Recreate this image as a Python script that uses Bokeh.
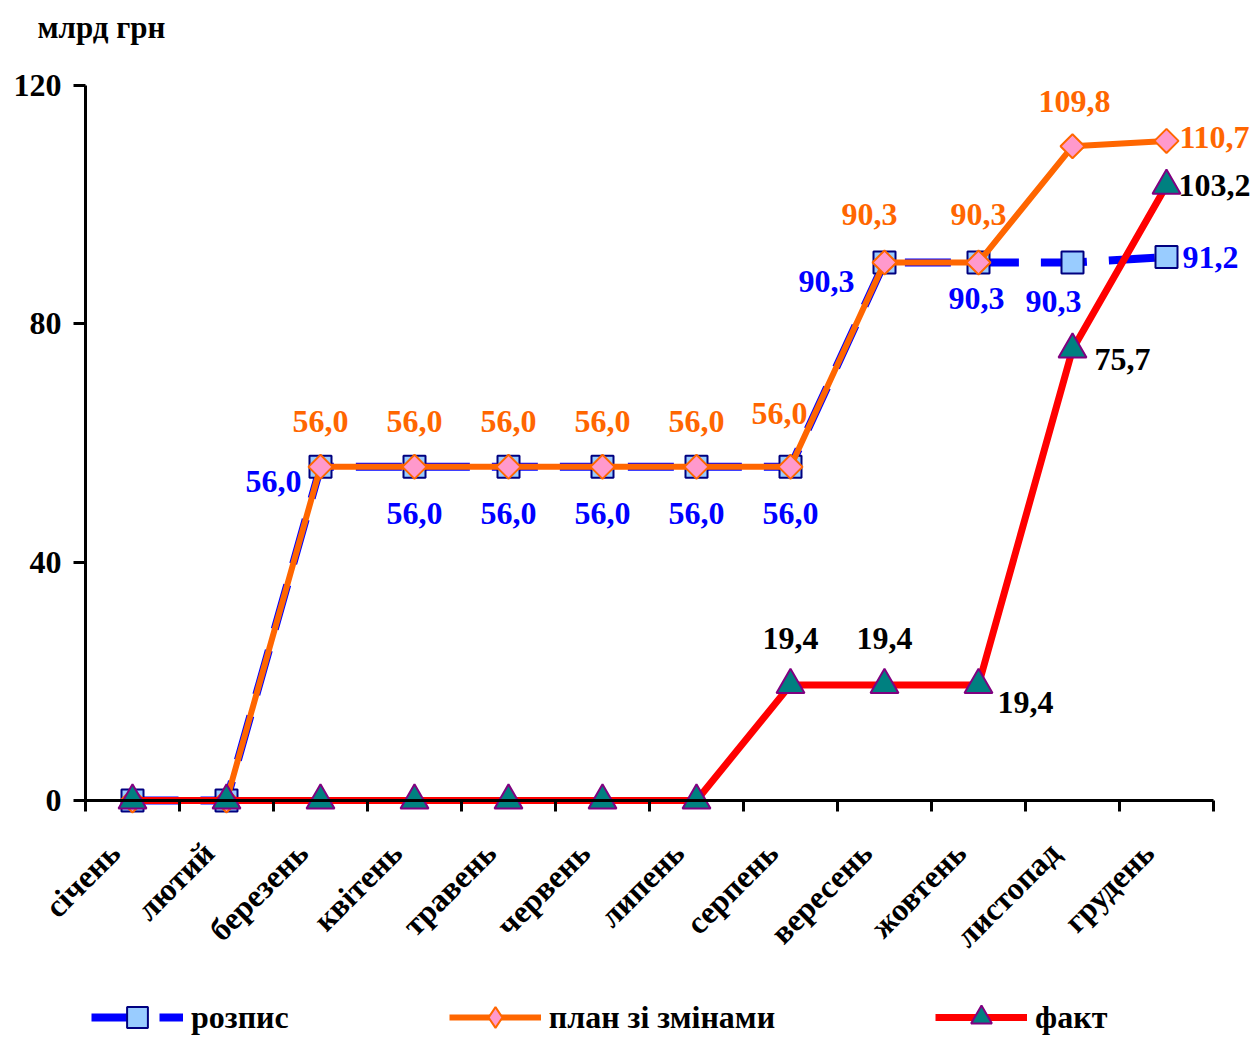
import numpy as np
from bokeh.plotting import figure
from bokeh.models import (Range1d, FixedTicker, ColumnDataSource, LabelSet, Label,
                          Legend, LegendItem, LinearAxis)
from bokeh.embed import file_html
from bokeh.resources import INLINE

# ---------------- data ----------------
months = ["січень", "лютий", "березень", "квітень", "травень", "червень",
          "липень", "серпень", "вересень", "жовтень", "листопад", "грудень"]
rozpys = [0, 0, 56.0, 56.0, 56.0, 56.0, 56.0, 56.0, 90.3, 90.3, 90.3, 91.2]
plan = [0, 0, 56.0, 56.0, 56.0, 56.0, 56.0, 56.0, 90.3, 90.3, 109.8, 110.7]
fakt = [0, 0, 0, 0, 0, 0, 0, 19.4, 19.4, 19.4, 75.7, 103.2]
y_ticks = [0, 40, 80, 120]
y_max = 120
y_unit = "млрд грн"
series_names = ["розпис", "план зі змінами", "факт"]

# ---------------- label placement (screen px offsets) ----------------
rozpys_off = [None, None, (-47, -15), (0, -47), (0, -47), (0, -47), (0, -47), (0, -47),
              (-58, -19), (-2, -36), (-19, -39), (44, 0)]
plan_off = [None, None, (0, 45), (0, 45), (0, 45), (0, 45), (0, 45), (-11, 53),
            (-15, 48), (0, 48), (2, 45), (48, 3)]
fakt_off = [None, None, None, None, None, None, None, (0, 46), (0, 46), (47, -18),
            (50, -10), (48, 0)]

FONT = "Liberation Serif"
BLUE, ORANGE, RED = "#0000FF", "#FF6600", "#FF0000"

# ---------------- layout in pixels ----------------
W, H = 1250, 1040
AX_LEFT, AX_BOTTOM, AX_TOP, AX_RIGHT = 85, 800, 85, 1213
LABEL_SHIFT_PX = 18
n = len(months)
px_x = (AX_RIGHT - AX_LEFT) / n
px_y = (AX_BOTTOM - AX_TOP) / y_max

x = np.arange(n) + 0.5
x_lab = x - LABEL_SHIFT_PX / px_x

p = figure(width=W, height=H, min_border=0,
           x_range=Range1d(-AX_LEFT / px_x, (W - AX_LEFT) / px_x),
           y_range=Range1d(-(H - AX_BOTTOM) / px_y, AX_BOTTOM / px_y),
           x_axis_location=None, y_axis_location=None,
           output_backend="svg", toolbar_location=None)
p.outline_line_color = None
p.grid.visible = False
p.background_fill_color = "white"

# x axis
xa = LinearAxis(fixed_location=0, bounds=(0, n))
xa.ticker = FixedTicker(ticks=[float(v) for v in x_lab], minor_ticks=list(range(n + 1)))
xa.major_label_overrides = {float(xi): m for xi, m in zip(x_lab, months)}
xa.major_tick_line_color = None
xa.minor_tick_line_color = "black"
xa.minor_tick_line_width = 3
xa.minor_tick_out = 11
xa.minor_tick_in = 0
xa.axis_line_width = 3
xa.axis_line_color = "black"
xa.major_label_orientation = np.pi / 4
xa.major_label_text_font = FONT
xa.major_label_text_font_style = "bold"
xa.major_label_text_font_size = "32px"
xa.major_label_text_color = "black"
xa.major_label_standoff = 36
p.add_layout(xa, "below")

# y axis
ya = LinearAxis(fixed_location=0, bounds=(0, y_max))
ya.ticker = FixedTicker(ticks=y_ticks)
ya.major_tick_out = 12
ya.major_tick_in = 0
ya.major_tick_line_width = 3
ya.major_tick_line_color = "black"
ya.minor_tick_line_color = None
ya.axis_line_width = 3
ya.axis_line_color = "black"
ya.major_label_text_font = FONT
ya.major_label_text_font_style = "bold"
ya.major_label_text_font_size = "32px"
ya.major_label_text_color = "black"
ya.major_label_standoff = 12
p.add_layout(ya, "left")

# series
b_line = p.line(x, rozpys, line_color=BLUE, line_width=8, line_dash="46 22", line_join="round")
b_mk = p.scatter(x, rozpys, marker="square", size=22, fill_color="#99CCFF",
                 line_color="#000080", line_width=2)
o_line = p.line(x, plan, line_color=ORANGE, line_width=6, line_join="round")
o_src = ColumnDataSource(dict(x=x, y=plan, a=[45.0] * n))
o_mk = p.scatter("x", "y", source=o_src, marker="square", angle="a", angle_units="deg",
                 size=17, fill_color="#FF99CC", line_color=ORANGE, line_width=2)
# legend-only diamond swatch (hidden in the plot area)
o_leg = p.scatter(x[:1], plan[:1], marker="diamond", size=24, fill_color="#FF99CC",
                  line_color=ORANGE, line_width=2, visible=False)
r_line = p.line(x, fakt, line_color=RED, line_width=7, line_join="round")
r_mk = p.scatter(x, fakt, marker="triangle", size=28, fill_color="#008080",
                 line_color="#800080", line_width=2)


def add_labels(values, offsets, color):
    xs, ys, txt, dx, dy = [], [], [], [], []
    for xi, v, off in zip(x, values, offsets):
        if off is None:
            continue
        xs.append(xi); ys.append(v)
        txt.append(f"{v:.1f}".replace(".", ","))
        dx.append(off[0]); dy.append(off[1])
    src = ColumnDataSource(dict(x=xs, y=ys, t=txt, dx=dx, dy=dy))
    p.add_layout(LabelSet(x="x", y="y", text="t", x_offset="dx", y_offset="dy", source=src,
                          text_align="center", text_baseline="middle",
                          text_font=FONT, text_font_style="bold", text_font_size="32px",
                          text_color=color))


add_labels(plan, plan_off, ORANGE)
add_labels(rozpys, rozpys_off, BLUE)
add_labels(fakt, fakt_off, "black")

# unit title
p.add_layout(Label(x=37, y=H - 27, x_units="screen", y_units="screen", text=y_unit,
                   text_align="left", text_baseline="middle", text_font=FONT,
                   text_font_style="bold", text_font_size="31px", text_color="black"))

legend = Legend(items=[LegendItem(label=series_names[0], renderers=[b_line, b_mk]),
                       LegendItem(label=series_names[1], renderers=[o_line, o_leg]),
                       LegendItem(label=series_names[2], renderers=[r_line, r_mk])],
                orientation="horizontal", location=(91, -3),
                glyph_width=92, glyph_height=52, label_height=52, label_standoff=8,
                spacing=160, padding=0, margin=0,
                border_line_color=None, background_fill_alpha=0,
                inactive_fill_alpha=0,
                label_text_font=FONT, label_text_font_style="bold",
                label_text_font_size="32px", label_text_color="black")
p.add_layout(legend)

open("out.html", "w").write(file_html(p, INLINE))
